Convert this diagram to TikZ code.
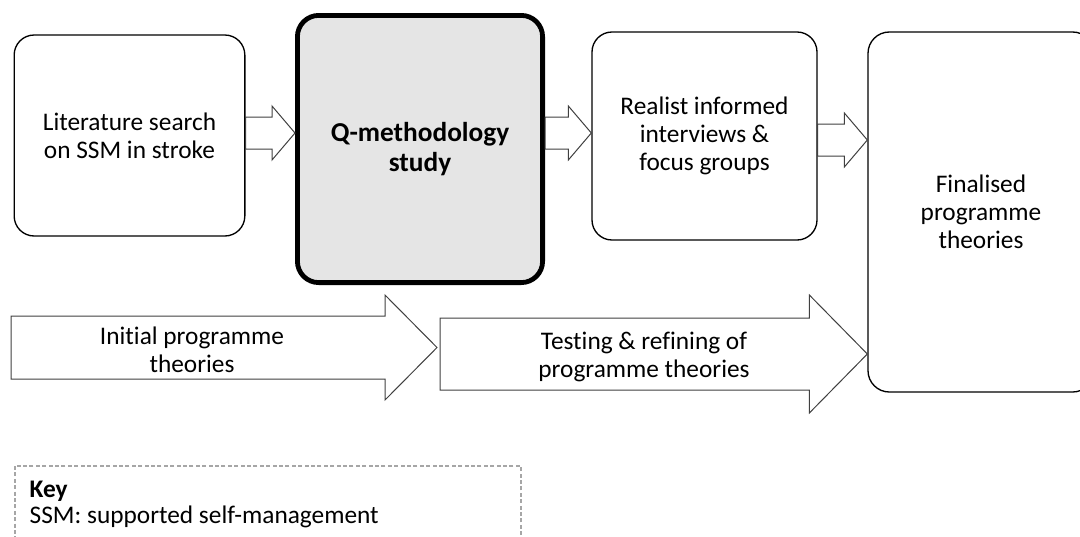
\documentclass[tikz,border=0pt]{standalone}
\usepackage{fontspec}
\setmainfont[Ligatures = NoCommon]{Carlito}
\usetikzlibrary{calc}

% block arrow from #1 to #2: half shaft #3, half head #4, head length #5
\newcommand\blockarrow[5]{%
	\filldraw [arrowline] ($(#1)+(0,-#3)$) -- ($(#2)+(-#5,-#3)$) -- ($(#2)+(-#5,-#4)$) -- (#2)
		-- ($(#2)+(-#5,#4)$) -- ($(#2)+(-#5,#3)$) -- ($(#1)+(0,#3)$) -- cycle;
}

\begin{document}
\begin{tikzpicture}[x = .75pt, y = -.75pt,
	box/.style = {draw, line width = 1pt, rounded corners = 15pt, align = center,
		font = \fontsize{19}{21}\selectfont},
	arrowline/.style = {draw = black!75, fill = white, line width = .75pt, line join = miter},
	arrowtext/.style = {align = center, font = \fontsize{19}{21}\selectfont},
	keyline/.style = {draw = black!35, line width = .8pt, dash pattern = on 3pt off 1.8pt}]
\useasboundingbox (0, 0) rectangle (1080, 536);

% the four stages
\node [box, minimum width = 173pt, minimum height = 150.75pt] (lit) at (129.5, 135.5) {Literature search\\on SSM in stroke};
\node [box, line width = 3.6pt, rounded corners = 16pt, fill = black!10, minimum width = 183.9pt, minimum height = 200.4pt,
	font = \fontsize{20.5}{23}\selectfont\bfseries] (qm) at (420, 149) {Q-methodology\\study};
\node [box, minimum width = 168.75pt, minimum height = 156pt] (real) at (704.5, 136) {Realist informed\\interviews \&\\focus groups};
\node [box, rounded corners = 16pt, minimum width = 169.5pt, minimum height = 270pt] (final) at (981, 212) {Finalised\\programme\\theories};

% small arrows between the stages
\foreach \a/\b/\y in {lit/qm/133, qm/real/133, real/final/140}{
	\coordinate (y) at (0, \y);
	\coordinate (\a-out) at (\a.east |- y);
	\coordinate (\a-in) at (\b.west |- y);
	\blockarrow{\a-out}{\a-in}{16}{27}{23}
};

% programme theory arrows
\coordinate (ini-out) at (11, 347.5);
\coordinate (ini-in) at (437, 347.5);
\blockarrow{ini-out}{ini-in}{31.5}{52.5}{52}
\coordinate (test-out) at (440, 354);
\coordinate (test-in) at (final.west |- test-out);
\blockarrow{test-out}{test-in}{36}{59}{58}
\node [arrowtext] (ini) at (192, 350) {Initial programme\\theories};
\node [arrowtext] (test) at (644, 357) {Testing \& refining of\\programme theories};

% key
\draw [keyline] (15, 466) rectangle (521, 590);
\node [anchor = base west, font = \fontsize{19}{21}\selectfont\bfseries] (key) at (25, 497) {Key};
\node [anchor = base west, font = \fontsize{19}{21}\selectfont] (ssm) at (25, 523) {SSM: supported self-management};
\end{tikzpicture}
\end{document}
